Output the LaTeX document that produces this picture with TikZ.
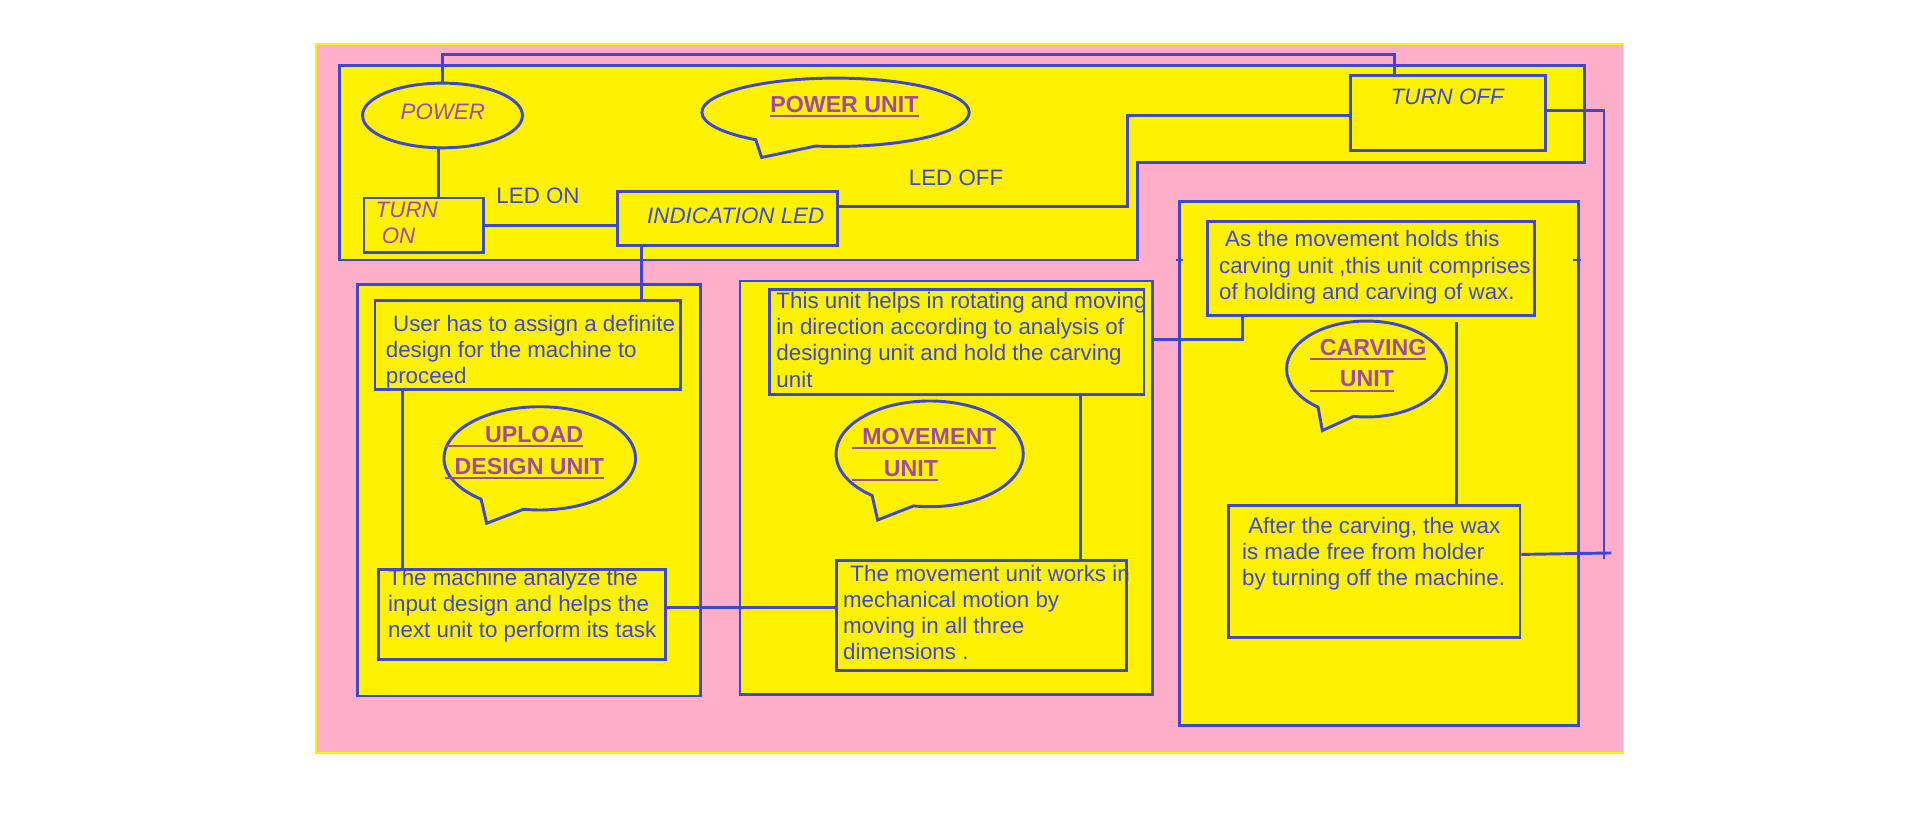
\documentclass[tikz,border=0pt]{standalone}
\usepackage{fontspec}
\setmainfont{Liberation Sans}
\usetikzlibrary{positioning,shapes.geometric,shapes.callouts}

\definecolor{paintpink}{RGB}{255,174,201}
\definecolor{paintyellow}{RGB}{255,242,0}
\definecolor{paintindigo}{RGB}{63,72,204}
\definecolor{paintpurple}{RGB}{163,73,164}

\newcommand{\bodyfont}{\fontsize{18.3}{21.5}\selectfont}
\newcommand{\titlefont}{\fontsize{19}{25.9}\selectfont\bfseries}
\newcommand{\titleul}[2]{\setbox0=\hbox{\kern#1#2}\rlap{\rule[-4pt]{\wd0}{1.6pt}}\box0}

\begin{document}
\begin{tikzpicture}[x=1pt,y=-1pt,line width=2.4pt,
unitbox/.style={draw=paintindigo,fill=paintyellow,rectangle,inner sep=0pt,anchor=north west},
oval/.style={draw=paintindigo,fill=paintyellow,ellipse,inner sep=0pt},
bubble/.style={draw=paintindigo,fill=paintyellow,ellipse callout,inner sep=0pt,callout pointer arc=28},
link/.style={draw=paintindigo},
bodytext/.style={font=\bodyfont,text=paintindigo,align=left,inner sep=0pt,anchor=base west},
tagtext/.style={bodytext,font=\bodyfont\itshape},
titletext/.style={font=\titlefont,text=paintpurple,align=left,inner sep=0pt,anchor=base west}]
\fill[white] (0,0) rectangle (1568,676);
\useasboundingbox (0,0) rectangle (1568,676);
\draw[paintyellow,fill=paintpink,line width=1.6pt] (259,36) rectangle (1330,617);

% power unit area
\draw[paintindigo,fill=paintyellow] (278,54) -- (1298,54) -- (1298,133.5) -- (932,133.5) -- (932,213) -- (278,213) -- cycle;

% unit frames
\node[unitbox,minimum width=281pt,minimum height=337pt] (upload)   at (292,232) {};
\node[unitbox,minimum width=338pt,minimum height=339pt] (movement) at (605,229) {};
\node[unitbox,minimum width=327pt,minimum height=429pt] (carving)  at (965,164) {};
\draw[link] (963,213) -- (969,213) (1289,213) -- (1295,213);

% boxes
\node[unitbox,minimum width=98pt,minimum height=45pt]   (turnon)  at (297,161)  {};
\node[unitbox,minimum width=180pt,minimum height=44pt]  (led)     at (505,156)  {};
\node[unitbox,minimum width=160pt,minimum height=61pt]  (turnoff) at (1105,61)  {};
\node[unitbox,minimum width=250pt,minimum height=73pt]  (assign)  at (306,245)  {};
\node[unitbox,minimum width=235pt,minimum height=74pt]  (analyze) at (309,465)  {};
\node[unitbox,minimum width=307pt,minimum height=86pt]  (rotate)  at (629,236)  {};
\node[unitbox,minimum width=238pt,minimum height=90pt]  (motion)  at (684,458)  {};
\node[unitbox,minimum width=268pt,minimum height=77pt]  (hold)    at (988,180)  {};
\node[unitbox,minimum width=239pt,minimum height=108pt] (release) at (1005,413) {};
\node[oval,minimum width=131pt,minimum height=53pt] (power) at (362.5,94.6) {};

% bubbles
\node[bubble,minimum width=219pt,minimum height=56pt,callout absolute pointer={(624,129)}]       (powerbub)  at (684.5,92)    {};
\node[bubble,minimum width=157pt,minimum height=84.6pt,callout absolute pointer={(398.7,428.7)}] (uploadbub) at (442.2,375.5)  {};
\node[bubble,minimum width=153.4pt,minimum height=86.6pt,callout absolute pointer={(719,426)}]   (movebub)   at (761.6,371.8)  {};
\node[bubble,minimum width=131pt,minimum height=78.6pt,callout absolute pointer={(1083.3,352.7)}] (carvebub) at (1119.5,302.3) {};

% connectors
\coordinate (offend)  at (1314,458);
\coordinate (freeend) at (1320,453);
\draw[link] (power.north) -- ++(0,-22) -| ([xshift=-44pt]turnoff.north);
\draw[link] ([xshift=-3.5pt]power.south) coordinate (pw) -- (pw |- turnon.north);
\draw[link] (turnon.east) -- (turnon.east -| led.west);
\draw[link] ([yshift=10pt]led.east) -- ++(236,0) |- ([yshift=-2pt]turnoff.west);
\draw[link] ([xshift=20.5pt]led.south west) coordinate (lf) -- (lf |- assign.north);
\draw[link] ([xshift=23.5pt]assign.south west) coordinate (af) -- (af |- analyze.north);
\draw[link] ([yshift=5.5pt]analyze.east) coordinate (ae) -- (ae -| motion.west);
\draw[link] ([xshift=-53pt]rotate.south east) coordinate (rf) -- (rf |- motion.north);
\draw[link] ([xshift=30pt]hold.south west) |- ([yshift=-49pt]movement.north east);
\draw[link,shorten <=4pt] ([xshift=-65.5pt]hold.south east) coordinate (hf) -- (hf |- release.north);
\draw[link] ([yshift=2pt]turnoff.east) -| (offend);
\draw[link] ([yshift=14pt]release.east) -- (freeend);

% labels (placed at the baseline of their last line)
\node[tagtext,text=paintpurple] (powerlbl)  at (327,97.5)  {POWER};
\node[tagtext,text=paintpurple] (turnonlbl) at (306.6,199.5) {TURN\\\hspace*{5pt}ON};
\node[bodytext] (ledonlbl)   at (405.5,167)   {LED ON};
\node[tagtext]  (ledlbl)     at (529,183.5)   {INDICATION LED};
\node[bodytext] (ledofflbl)  at (743.4,152.1) {LED OFF};
\node[tagtext]  (turnofflbl) at (1138.2,86)   {TURN OFF};

\node[titletext] (powertitle)  at (629.9,92)    {\titleul{0pt}{POWER UNIT}};
\node[titletext] (uploadtitle) at (363.2,388.4) {\titleul{33pt}{UPLOAD}\\\titleul{8pt}{DESIGN UNIT}};
\node[titletext] (movetitle)   at (696.9,390)   {\titleul{8.4pt}{MOVEMENT}\\\titleul{26pt}{UNIT}};
\node[titletext] (carvetitle)  at (1071.8,317)  {\titleul{8.2pt}{CARVING}\\\titleul{24.6pt}{UNIT}};

\node[bodytext] (assigntxt)  at (314.9,314.2) {\hspace*{6pt}User has to assign a definite\\design for the machine to\\proceed};
\node[bodytext] (analyzetxt) at (316.8,522.3) {The machine analyze the\\input design and helps the\\next unit to perform its task};
\node[bodytext] (rotatetxt)  at (634.9,317.2) {This unit helps in rotating and moving\\in direction according to analysis of\\designing unit and hold the carving\\unit};
\node[bodytext] (motiontxt)  at (689.5,540.5) {\hspace*{6pt}The movement unit works in\\mechanical motion by\\moving in all three\\dimensions .};
\node[bodytext] (holdtxt)    at (997.5,245.2) {\hspace*{5pt}As the movement holds this\\carving unit ,this unit comprises\\of holding and carving of wax.};
\node[bodytext] (releasetxt) at (1016.4,480)  {\hspace*{5pt}After the carving, the wax\\is made free from holder\\by turning off the machine.};
\end{tikzpicture}
\end{document}
